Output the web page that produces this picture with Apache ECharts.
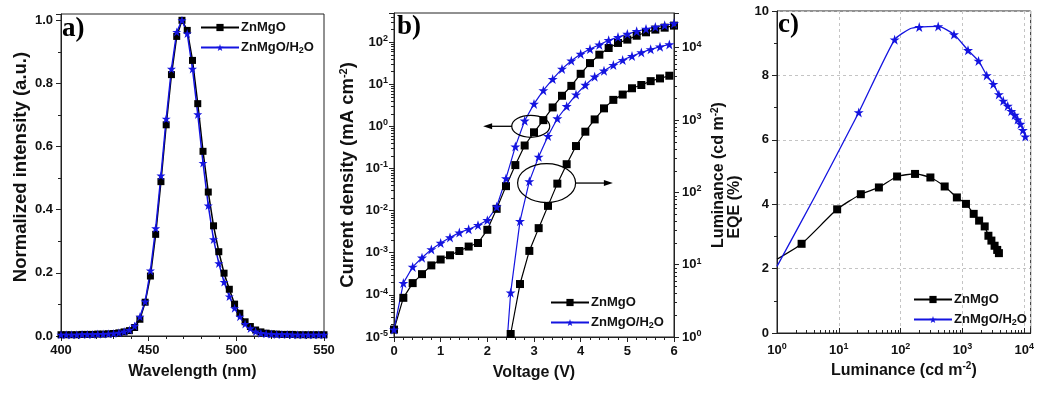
<!DOCTYPE html>
<html><head><meta charset="utf-8">
<script src="https://cdn.jsdelivr.net/npm/echarts@6/dist/echarts.min.js"></script>
<style>html,body{margin:0;padding:0;background:#fff}#c{width:1037px;height:394px}</style>
</head><body><div id="c"></div>
<script>
// ---------- Panel a: normalized EL spectra ----------
const wavelength = [400,403,406,409,412,415,418,421,424,427,430,433,436,439,442,445,448,451,454,457,460,463,466,469,472,475,478,481,484,487,490,493,496,499,502,505,508,511,514,517,520,523,526,529,532,535,538,541,544,547,550];
const intensityZnMgO = [0.004,0.004,0.004,0.004,0.005,0.005,0.005,0.006,0.006,0.007,0.008,0.010,0.013,0.017,0.027,0.053,0.107,0.190,0.322,0.489,0.669,0.828,0.949,1.000,0.968,0.873,0.736,0.585,0.456,0.349,0.267,0.199,0.148,0.101,0.072,0.045,0.030,0.019,0.013,0.009,0.007,0.006,0.005,0.005,0.005,0.004,0.004,0.004,0.004,0.004,0.004];
const intensityH2O = [0.004,0.004,0.004,0.004,0.005,0.005,0.005,0.006,0.006,0.007,0.008,0.010,0.014,0.019,0.032,0.061,0.109,0.207,0.341,0.508,0.688,0.846,0.963,1.000,0.958,0.846,0.702,0.548,0.413,0.306,0.230,0.171,0.125,0.088,0.061,0.038,0.024,0.014,0.009,0.007,0.006,0.005,0.005,0.005,0.004,0.004,0.004,0.004,0.004,0.004,0.004];

// ---------- Panel b: J-V-L ----------
const voltageJ = [0,0.2,0.4,0.6,0.8,1.0,1.2,1.4,1.6,1.8,2.0,2.2,2.4,2.6,2.8,3.0,3.2,3.4,3.6,3.8,4.0,4.2,4.4,4.6,4.8,5.0,5.2,5.4,5.6,5.8,6.0];
const currentZnMgO = [1.5e-5,8.5e-5,1.9e-4,3.1e-4,5.0e-4,6.9e-4,8.7e-4,1.1e-3,1.4e-3,1.7e-3,3.5e-3,1.1e-2,0.038,0.12,0.35,0.72,1.4,2.8,5.3,9.1,17.6,31.6,50,72,95,114,141,170,197,219,245];
const currentH2O = [1.5e-5,1.9e-4,4.6e-4,7.6e-4,1.2e-3,1.7e-3,2.3e-3,3.0e-3,3.6e-3,4.5e-3,5.9e-3,0.0123,0.058,0.33,1.35,3.4,7.1,13.2,23,36,52,68,86,110,131,155,180,204,228,250,275];
const voltageLZnMgO = [2.5,2.7,2.9,3.1,3.3,3.5,3.7,3.9,4.1,4.3,4.5,4.7,4.9,5.1,5.3,5.5,5.7,5.9];
const luminanceZnMgO = [1.1,5.4,15.5,32,65,132,245,437,690,1020,1450,1900,2250,2750,3050,3450,3760,4100];
const voltageLH2O = [2.43,2.5,2.7,2.9,3.1,3.3,3.5,3.7,3.9,4.1,4.3,4.5,4.7,4.9,5.1,5.3,5.5,5.7,5.9];
const luminanceH2O = [1.0,4.1,40,142,310,600,1050,1550,2250,3050,3970,4800,5750,6750,7660,8600,9500,10300,11100];
const unmarkedLH2O = [0];

// ---------- Panel c: EQE-L ----------
const lumEqeZnMgO = [1,2.5,9.4,22.7,44.5,87.6,171,303,516,812,1140,1520,1860,2290,2630,2940,3310,3650,3890];
const eqeZnMgO = [2.29,2.77,3.84,4.31,4.52,4.86,4.94,4.83,4.55,4.21,4.01,3.70,3.49,3.31,3.02,2.87,2.71,2.58,2.48];
const unmarkedEqeZnMgO = [0];
const lumEqeH2O = [1,4.1,21,80,142,200,405,730,1230,1820,2470,3160,3880,4570,5400,6170,7000,7800,8700,9500,10400];
const eqeH2O = [2.07,4.24,6.85,9.11,9.45,9.50,9.52,9.27,8.78,8.45,8.00,7.73,7.41,7.21,7.05,6.89,6.77,6.63,6.49,6.30,6.10];
const unmarkedEqeH2O = [0,1,4];

// annotations in panel b (data coordinates: V, J)
const ellipseCenters = [[2.93, 1.0], [3.27, 0.045]];
const arrowsFromTo = [[[2.53, 1.0], [1.91, 1.0]], [[3.89, 0.045], [4.69, 0.045]]];

const seriesNames = ['ZnMgO', 'ZnMgO/H2O'];
const panelLabels = ['a)', 'b)', 'c)'];

const FONT = '"Liberation Sans", Arial, sans-serif';
const BLACK = '#000000';
const BLUE = '#1414e0';
const STAR = 'path://M50,0 L61.8,35.5 L99,35.5 L69,57.5 L80.5,93 L50,71 L19.5,93 L31,57.5 L1,35.5 L38.2,35.5 Z';

function zip(xs, ys, unmarked) {
  return xs.map((x, i) => (unmarked && unmarked.indexOf(i) >= 0) ? {value: [x, ys[i]], symbol: 'none'} : [x, ys[i]]);
}
function logFmt(v) {
  const e = Math.log10(v);
  const r = Math.round(e);
  if (Math.abs(e - r) > 1e-6) return '';
  return '10{sup|' + r + '}';
}
function minorLog(e0, e1, max) {
  const out = [];
  for (let e = e0; e <= e1; e++) for (let k = 2; k <= 9; k++) { const v = k * Math.pow(10, e); if (v < max) out.push(v); }
  return out;
}
const supRich = {sup: {fontSize: 9, fontWeight: 'bold', fontFamily: FONT, color: '#111', padding: [0, 0, 7, 0]}};
const labelStyle = {color: '#111', fontSize: 13, fontWeight: 'bold', fontFamily: FONT};
const nameStyleX = {color: '#111', fontSize: 16, fontWeight: 'bold', fontFamily: FONT, rich: {sup: {fontSize: 10, fontWeight: 'bold', fontFamily: FONT, color: '#111', padding: [0, 0, 8, 0]}}};
function nameStyleY(size, pad) {
  return {color: '#111', fontSize: size, fontWeight: 'bold', fontFamily: FONT, padding: pad || 0,
    rich: {sup: {fontSize: Math.round(size * 0.62), fontWeight: 'bold', fontFamily: FONT, color: '#111', padding: [0, 0, Math.round(size * 0.5), 0]}}};
}
const lineC = {lineStyle: {color: '#222', width: 1}};

function axis(o) {
  return Object.assign({
    axisLine: Object.assign({show: true, onZero: false}, lineC),
    axisTick: {show: true, length: 5, lineStyle: {color: '#222'}},
    minorTick: {show: false},
    splitLine: {show: false},
    axisLabel: Object.assign({}, labelStyle),
    nameLocation: 'middle'
  }, o);
}

const chart = echarts.init(document.getElementById('c'), null, {renderer: 'canvas'});

const legendBase = (left, top) => ({
  left: left, top: top, orient: 'vertical', itemWidth: 38, itemHeight: 9, itemGap: 7, padding: 0,
  selectedMode: false, data: seriesNames,
  formatter: n => n === 'ZnMgO/H2O' ? 'ZnMgO/H{sub|2}O' : n,
  textStyle: {color: '#111', fontSize: 13, fontWeight: 'bold', fontFamily: FONT, padding: [0, 0, 0, -3],
    rich: {sub: {fontSize: 9, fontWeight: 'bold', fontFamily: FONT, color: '#111', padding: [6, 0, 0, 0]}}}
});

const option = {
  animation: false,
  backgroundColor: '#fff',
  title: [
    {text: panelLabels[0], left: 62, top: 16},
    {text: panelLabels[1], left: 397, top: 14},
    {text: panelLabels[2], left: 778, top: 12}
  ].map(t => Object.assign(t, {padding: 0, textStyle: {fontFamily: '"Liberation Serif", "Times New Roman", serif', fontWeight: 'bold', fontSize: 27, color: '#000'}})),
  grid: [
    {left: 61, top: 14, width: 263, height: 322, show: true, borderColor: '#222', borderWidth: 1, containLabel: false},
    {left: 394, top: 13, width: 280, height: 324, show: true, borderColor: '#222', borderWidth: 1},
    {left: 777, top: 11, width: 256, height: 322, show: true, borderColor: '#222', borderWidth: 1}
  ],
  legend: [legendBase(200, 21), legendBase(550, 296), legendBase(913, 293)],
  xAxis: [
    axis({type: 'value', gridIndex: 0, min: 400, max: 550, interval: 50, name: 'Wavelength (nm)', nameGap: 28, nameTextStyle: nameStyleX,
      minorTick: {show: true, splitNumber: 5, length: 3, lineStyle: {color: '#222'}}, axisLabel: Object.assign({margin: 8}, labelStyle)}),
    axis({type: 'value', gridIndex: 1, min: 0, max: 6, interval: 1, name: 'Voltage (V)', nameGap: 28, nameTextStyle: nameStyleX,
      minorTick: {show: true, splitNumber: 5, length: 3, lineStyle: {color: '#222'}}, axisLabel: Object.assign({margin: 8}, labelStyle)}),
    axis({type: 'log', logBase: 10, gridIndex: 2, min: 1, max: 12700, name: 'Luminance (cd m{sup|-2})', nameGap: 28, nameTextStyle: nameStyleX,
      axisTick: {show: true, inside: true, length: 5, lineStyle: {color: '#222'}},
      splitLine: {show: true, lineStyle: {color: '#c4c4c4', type: [3, 3], width: 1}},
      axisLabel: Object.assign({margin: 9, formatter: logFmt, rich: supRich}, labelStyle)})
  ],
  yAxis: [
    axis({type: 'value', gridIndex: 0, min: 0, max: 1.02, interval: 0.2, name: 'Normalized intensity (a.u.)', nameGap: 31, nameTextStyle: nameStyleY(18.5, [0, 0, 0, 16]),
      minorTick: {show: true, splitNumber: 2, length: 3, lineStyle: {color: '#222'}},
      axisLabel: Object.assign({margin: 8, formatter: v => (Math.abs(v * 5 - Math.round(v * 5)) < 1e-6 ? v.toFixed(1) : '')}, labelStyle)}),
    axis({type: 'log', logBase: 10, gridIndex: 1, position: 'left', min: 1e-5, max: 488, name: 'Current density (mA cm{sup|-2})', nameGap: 36, nameTextStyle: nameStyleY(18.5),
      axisLabel: Object.assign({margin: 6, formatter: logFmt, rich: supRich}, labelStyle)}),
    axis({type: 'log', logBase: 10, gridIndex: 1, position: 'right', min: 1, max: 30200, name: 'Luminance (cd m{sup|-2})', nameGap: 36, nameTextStyle: nameStyleY(16),
      axisLabel: Object.assign({margin: 8, formatter: logFmt, rich: supRich}, labelStyle)}),
    axis({type: 'value', gridIndex: 2, min: 0, max: 10, interval: 2, name: 'EQE (%)', nameGap: 34, nameTextStyle: nameStyleY(16, [0, 70, 0, 0]),
      minorTick: {show: true, splitNumber: 2, length: 3, lineStyle: {color: '#222'}},
      splitLine: {show: true, lineStyle: {color: '#c4c4c4', type: [3, 3], width: 1}},
      axisLabel: Object.assign({margin: 8}, labelStyle)})
  ],
  series: [
    {name: seriesNames[0], type: 'line', xAxisIndex: 0, yAxisIndex: 0, data: zip(wavelength, intensityZnMgO),
      symbol: 'rect', symbolSize: 7, lineStyle: {color: BLACK, width: 1.5}, itemStyle: {color: BLACK}},
    {name: seriesNames[1], type: 'line', xAxisIndex: 0, yAxisIndex: 0, data: zip(wavelength, intensityH2O),
      symbol: STAR, symbolSize: 9, lineStyle: {color: BLUE, width: 1.5}, itemStyle: {color: BLUE}},

    {name: seriesNames[0], type: 'line', xAxisIndex: 1, yAxisIndex: 1, data: zip(voltageJ, currentZnMgO),
      symbol: 'rect', symbolSize: 8, lineStyle: {color: BLACK, width: 1.2}, itemStyle: {color: BLACK}},
    {name: seriesNames[1], type: 'line', xAxisIndex: 1, yAxisIndex: 1, data: zip(voltageJ, currentH2O),
      symbol: STAR, symbolSize: 10, lineStyle: {color: BLUE, width: 1.2}, itemStyle: {color: BLUE}},
    {name: seriesNames[0], type: 'line', xAxisIndex: 1, yAxisIndex: 2, data: zip(voltageLZnMgO, luminanceZnMgO),
      symbol: 'rect', symbolSize: 8, lineStyle: {color: BLACK, width: 1.2}, itemStyle: {color: BLACK}},
    {name: seriesNames[1], type: 'line', xAxisIndex: 1, yAxisIndex: 2, data: zip(voltageLH2O, luminanceH2O, unmarkedLH2O),
      symbol: STAR, symbolSize: 10, lineStyle: {color: BLUE, width: 1.2}, itemStyle: {color: BLUE}},

    {name: seriesNames[0], type: 'line', xAxisIndex: 2, yAxisIndex: 3, data: zip(lumEqeZnMgO, eqeZnMgO, unmarkedEqeZnMgO), smooth: 0.2,
      symbol: 'rect', symbolSize: 8, lineStyle: {color: BLACK, width: 1.3}, itemStyle: {color: BLACK}},
    {name: seriesNames[1], type: 'line', xAxisIndex: 2, yAxisIndex: 3, data: zip(lumEqeH2O, eqeH2O, unmarkedEqeH2O), smooth: 0.2,
      symbol: STAR, symbolSize: 10, lineStyle: {color: BLUE, width: 1.3}, itemStyle: {color: BLUE}}
  ]
};
chart.setOption(option);

const graphics = [];
// minor ticks of the logarithmic axes (2..9 within each decade), placed through the axes
function tickLine(x1, y1, x2, y2) {
  graphics.push({type: 'line', silent: true, shape: {x1: x1, y1: y1, x2: x2, y2: y2}, style: {stroke: '#222', lineWidth: 1}, z: 5});
}
const rectB = chart.getModel().getComponent('grid', 1).coordinateSystem.getRect();
const rectC = chart.getModel().getComponent('grid', 2).coordinateSystem.getRect();
minorLog(-5, 2, 488).forEach(v => {
  const y = Math.round(chart.convertToPixel({yAxisIndex: 1}, v)) + 0.5;
  tickLine(rectB.x, y, rectB.x - 3, y);
});
minorLog(0, 4, 30200).forEach(v => {
  const y = Math.round(chart.convertToPixel({yAxisIndex: 2}, v)) + 0.5;
  tickLine(rectB.x + rectB.width, y, rectB.x + rectB.width + 3, y);
});
minorLog(0, 4, 12700).forEach(v => {
  const x = Math.round(chart.convertToPixel({xAxisIndex: 2}, v)) + 0.5;
  tickLine(x, rectC.y + rectC.height, x, rectC.y + rectC.height - 3);
});

// annotations: ellipses and arrows placed through the axes of panel b
const finder = {xAxisIndex: 1, yAxisIndex: 1};
const ellipseRadii = [[19, 11], [29, 19.5]];
ellipseCenters.forEach((c, i) => {
  const p = chart.convertToPixel(finder, c);
  graphics.push({type: 'ellipse', shape: {cx: p[0], cy: p[1], rx: ellipseRadii[i][0], ry: ellipseRadii[i][1]},
    style: {fill: 'none', stroke: '#000', lineWidth: 1.2}, z: 10});
});
arrowsFromTo.forEach(a => {
  const p0 = chart.convertToPixel(finder, a[0]);
  const p1 = chart.convertToPixel(finder, a[1]);
  const dir = Math.sign(p1[0] - p0[0]);
  graphics.push({type: 'line', shape: {x1: p0[0], y1: p0[1], x2: p1[0] - dir * 6, y2: p1[1]}, style: {stroke: '#000', lineWidth: 1.3}, z: 10});
  graphics.push({type: 'polygon', shape: {points: [[p1[0], p1[1]], [p1[0] - dir * 9, p1[1] - 3], [p1[0] - dir * 9, p1[1] + 3]]}, style: {fill: '#000'}, z: 10});
});
chart.setOption({graphic: graphics});
</script>
</body></html>
